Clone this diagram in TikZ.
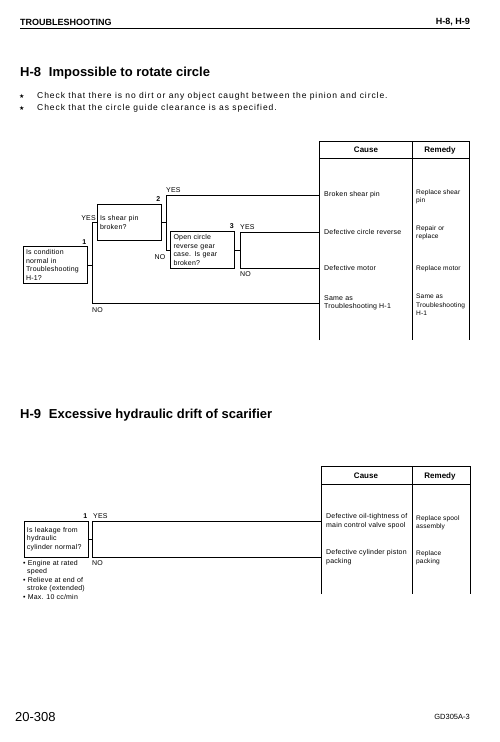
\documentclass[tikz,border=0pt]{standalone}
\usepackage{fontspec}
\setmainfont{Liberation Sans}
\newfontfamily\symfont{DejaVu Sans}
\usetikzlibrary{positioning,calc}
\newcommand{\smallfont}{\fontsize{7}{8.5}\selectfont\addfontfeature{LetterSpace=3}}
\newcommand{\remfont}{\fontsize{6.6}{8.5}\selectfont\addfontfeature{LetterSpace=2}}
\newcommand{\notefont}{\fontsize{8.5}{10}\selectfont\addfontfeature{LetterSpace=11}}

\begin{document}
\begin{tikzpicture}[
    x=1pt, y=-1pt,
    qbox/.style={rectangle, draw, line width=0.9pt, minimum width=64pt, minimum height=36pt, text width=58pt, align=left, inner sep=3pt, font=\smallfont},
    txt/.style={inner sep=0pt, align=left, font=\smallfont},
    cause/.style={anchor=west, align=left, inner xsep=5pt, inner ysep=0pt, font=\smallfont},
    remedy/.style={anchor=west, align=left, inner xsep=4pt, inner ysep=0pt, font=\remfont},
    head/.style={inner sep=0pt, font=\fontsize{8}{9}\selectfont\bfseries},
    num/.style={inner sep=0pt, font=\fontsize{7}{8}\selectfont\bfseries},
    yn/.style={inner sep=0pt, font=\fontsize{7}{8}\selectfont\addfontfeature{LetterSpace=3}},
    line/.style={line width=0.7pt},
    tab/.style={line width=0.9pt}
]
\useasboundingbox (0,0) rectangle (500,742);

% Page header
\node[anchor=west, inner sep=0pt, font=\fontsize{9}{10}\selectfont\bfseries] (hdl) at (20,22) {TROUBLESHOOTING};
\node[anchor=east, inner sep=0pt, font=\fontsize{9}{10}\selectfont\bfseries] (hdr) at (470,22) {H-8, H-9};
\draw[line width=1pt] (20,28) -- (470,28);

% H-8 title and notes
\node[anchor=west, inner sep=0pt, font=\fontsize{13}{15}\selectfont\bfseries] (t8) at (20,73) {H-8\hspace{0.6em}Impossible to rotate circle};
\node[anchor=west, inner sep=0pt, font=\notefont] (n1) at (19,96) {\makebox[18pt][l]{\symfont\fontsize{6}{7}\selectfont ★}Check that there is no dirt or any object caught between the pinion and circle.};
\node[anchor=west, inner sep=0pt, font=\notefont] (n2) at (19,108) {\makebox[18pt][l]{\symfont\fontsize{6}{7}\selectfont ★}Check that the circle guide clearance is as specified.};

% H-8 table
\draw[tab] (319,340) -- (319,141) -- (469,141) -- (469,340);
\draw[tab] (412,141) -- (412,340);
\draw[tab] (319,158) -- (469,158);
\node[head] (hc8) at (366,150) {Cause};
\node[head] (hr8) at (440,150) {Remedy};

\node[cause] (c1) at (319,195) {Broken shear pin};
\node[cause] (c2) at (319,232) {Defective circle reverse};
\node[cause] (c3) at (319,268) {Defective motor};
\node[cause] (c4) at (319,303) {Same as\\Troubleshooting H-1};
\node[remedy] (r1) at (412,197) {Replace shear\\pin};
\node[remedy] (r2) at (412,233) {Repair or\\replace};
\node[remedy] (r3) at (412,269) {Replace motor};
\node[remedy] (r4) at (412,305) {Same as\\Troubleshooting\\H-1};

% H-8 questions
\node[qbox] (q1) at (55,265) {Is condition\\normal in\\Troubleshooting\\H-1?};
\node[qbox] (q2) at (129,222.5) {Is shear pin\\broken?};
\node[qbox] (q3) at (202.5,250) {Open circle\\reverse gear\\case. Is gear\\broken?};
\node[num, above left=2pt and 1pt of q1.north east] (k1) {1};
\node[num, above left=2pt and 1pt of q2.north east] (k2) {2};
\node[num, above left=2pt and 1pt of q3.north east] (k3) {3};

% H-8 branches
\coordinate (j1) at ($(q1.east)+(5,0)$);
\coordinate (j2) at ($(q2.east)+(5,0)$);
\coordinate (j3) at ($(q3.east)+(5,0)$);
\draw[line] (q1.east) -- (j1);
\draw[line] (q2.west) -| (j1) |- (c4.west);
\draw[line] (q2.east) -- (j2);
\draw[line] (c1.west) -| (j2) |- (q3.west);
\draw[line] (q3.east) -- (j3);
\draw[line] (c2.west) -| (j3) |- (c3.west);

\node[yn, anchor=south east] (y1) at (96,221) {YES};
\node[yn, anchor=north west] (o1) at (92,307) {NO};
\node[yn, anchor=south west] (y2) at (166,193) {YES};
\node[yn, anchor=east] (o2) at (165.5,257) {NO};
\node[yn, anchor=south west] (y3) at (240,230) {YES};
\node[yn, anchor=north west] (o3) at (240,271) {NO};

% H-9 title
\node[anchor=west, inner sep=0pt, font=\fontsize{13}{15}\selectfont\bfseries] (t9) at (20,415) {H-9\hspace{0.6em}Excessive hydraulic drift of scarifier};

% H-9 table
\draw[tab] (321,594) -- (321,466) -- (470,466) -- (470,594);
\draw[tab] (412,466) -- (412,594);
\draw[tab] (321,484) -- (470,484);
\node[head] (hc9) at (366,476) {Cause};
\node[head] (hr9) at (440,476) {Remedy};

\node[cause] (d1) at (321,521) {Defective oil-tightness of\\main control valve spool};
\node[cause] (d2) at (321,557) {Defective cylinder piston\\packing};
\node[remedy] (m1) at (412,523) {Replace spool\\assembly};
\node[remedy] (m2) at (412,558) {Replace\\packing};

% H-9 question
\node[qbox] (q9) at (56,539) {Is leakage from\\hydraulic\\cylinder normal?};
\node[num, above left=2pt and 1pt of q9.north east] (k9) {1};
\node[txt, anchor=north west] (notes) at (23,560) {• Engine at rated\\\hspace*{4pt}speed\\• Relieve at end of\\\hspace*{4pt}stroke (extended)\\• Max. 10 cc/min};

\coordinate (j9) at ($(q9.east)+(4,0)$);
\draw[line] (q9.east) -- (j9);
\draw[line] (d1.west) -| (j9) |- (d2.west);
\node[yn, anchor=south west] (y9) at (93,519) {YES};
\node[yn, anchor=north west] (o9) at (92,560) {NO};

% Page footer
\node[anchor=west, inner sep=0pt, font=\fontsize{13}{15}\selectfont] (pg) at (15,717) {20-308};
\node[anchor=east, inner sep=0pt, font=\fontsize{7.5}{9}\selectfont] (code) at (470,717) {GD305A-3};

\end{tikzpicture}
\end{document}
